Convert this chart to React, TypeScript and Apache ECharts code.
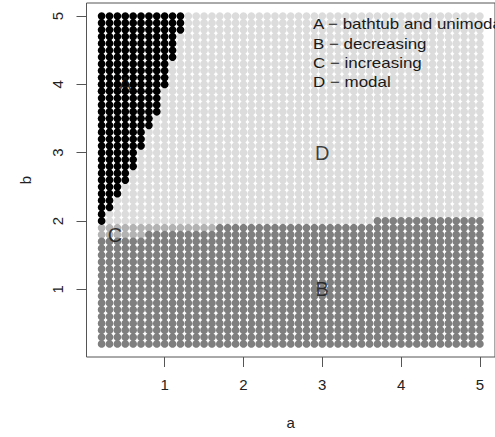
import React, { useEffect, useRef } from "react";
import * as echarts from "echarts";

// grid of shape parameters (a on x, b on y)
const aValues = [0.2, 0.3, 0.4, 0.5, 0.6, 0.7, 0.8, 0.9, 1.0, 1.1, 1.2, 1.3, 1.4, 1.5, 1.6, 1.7, 1.8, 1.9, 2.0, 2.1, 2.2, 2.3, 2.4, 2.5, 2.6, 2.7, 2.8, 2.9, 3.0, 3.1, 3.2, 3.3, 3.4, 3.5, 3.6, 3.7, 3.8, 3.9, 4.0, 4.1, 4.2, 4.3, 4.4, 4.5, 4.6, 4.7, 4.8, 4.9, 5.0];
const bValues = [0.2, 0.3, 0.4, 0.5, 0.6, 0.7, 0.8, 0.9, 1.0, 1.1, 1.2, 1.3, 1.4, 1.5, 1.6, 1.7, 1.8, 1.9, 2.0, 2.1, 2.2, 2.3, 2.4, 2.5, 2.6, 2.7, 2.8, 2.9, 3.0, 3.1, 3.2, 3.3, 3.4, 3.5, 3.6, 3.7, 3.8, 3.9, 4.0, 4.1, 4.2, 4.3, 4.4, 4.5, 4.6, 4.7, 4.8, 4.9, 5.0];

// region A (bathtub and unimodal): for each row b, the largest a in region A
const regionARows = [2.0, 2.1, 2.2, 2.3, 2.4, 2.5, 2.6, 2.7, 2.8, 2.9, 3.0, 3.1, 3.2, 3.3, 3.4, 3.5, 3.6, 3.7, 3.8, 3.9, 4.0, 4.1, 4.2, 4.3, 4.4, 4.5, 4.6, 4.7, 4.8, 4.9, 5.0];
const regionAMaxA = [0.2, 0.2, 0.3, 0.3, 0.4, 0.4, 0.5, 0.5, 0.6, 0.6, 0.6, 0.7, 0.7, 0.7, 0.8, 0.8, 0.9, 0.9, 0.9, 0.9, 1.0, 1.0, 1.0, 1.0, 1.1, 1.1, 1.1, 1.1, 1.2, 1.2, 1.2];

// column groups (starting a) with top b of region B (decreasing) and of region C (increasing)
const groupStartA = [0.2, 0.8, 1.7, 3.7];
const regionBTop = [1.7, 1.8, 1.9, 2.0];
const regionCTop = [1.9, 1.9, 1.9, 2.0];

const xTicks = [1, 2, 3, 4, 5];
const yTicks = [1, 2, 3, 4, 5];

const regionLetters = ["A", "B", "C", "D"];
const regionLetterA = [0.5, 3, 0.37, 3];
const regionLetterB = [4, 1, 1.8, 3];

const legendLines = [
  "A \u2212 bathtub and unimodal",
  "B \u2212 decreasing",
  "C \u2212 increasing",
  "D \u2212 modal",
];

const FONT = '"Liberation Sans", Arial, Helvetica, sans-serif';

function classify(a: number, b: number): number {
  const ai = Math.round(a * 10);
  const bi = Math.round(b * 10);
  const rowIdx = regionARows.findIndex((r) => Math.round(r * 10) === bi);
  if (rowIdx >= 0 && ai <= Math.round(regionAMaxA[rowIdx] * 10)) return 0;
  let g = 0;
  for (let i = 0; i < groupStartA.length; i++) {
    if (ai >= Math.round(groupStartA[i] * 10)) g = i;
  }
  if (bi <= Math.round(regionBTop[g] * 10)) return 1;
  if (bi <= Math.round(regionCTop[g] * 10)) return 2;
  return 3;
}

export default function App() {
  const ref = useRef<HTMLDivElement>(null);
  useEffect(() => {
    if (!ref.current) return;
    const chart = echarts.init(ref.current, undefined, { renderer: "svg" });
    const buckets: number[][][] = [[], [], [], []];
    for (const a of aValues) {
      for (const b of bValues) {
        buckets[classify(a, b)].push([a, b]);
      }
    }
    const colors = ["#000000", "#7f7f7f", "#b3b3b3", "#dcdcdc"];
    const order = [3, 2, 1, 0];
    const pointSeries = order.map((k) => ({
      type: "scatter",
      name: regionLetters[k],
      data: buckets[k],
      symbol: "circle",
      symbolSize: 7.8,
      itemStyle: { color: colors[k], opacity: 1 },
      silent: true,
      z: 2,
      emphasis: { disabled: true },
    }));
    const letterSeries = {
      type: "scatter",
      data: regionLetters.map((l, i) => ({ name: l, value: [regionLetterA[i], regionLetterB[i]] })),
      symbolSize: 0,
      silent: true,
      z: 5,
      label: {
        show: true,
        position: "inside",
        formatter: (p: any) => p.name,
        fontSize: 20,
        fontFamily: FONT,
        color: "#111",
      },
    };
    chart.setOption({
      animation: false,
      backgroundColor: "#ffffff",
      grid: {
        left: 86.5,
        top: 3,
        width: 409.5,
        height: 354,
        show: true,
        borderColor: "#555",
        borderWidth: 1,
        backgroundColor: "transparent",
      },
      xAxis: {
        type: "value",
        min: 0.008,
        max: 5.192,
        name: "a",
        nameLocation: "middle",
        nameGap: 58,
        nameTextStyle: { fontSize: 15, fontFamily: FONT, color: "#222" },
        axisLine: { show: false },
        splitLine: { show: false },
        axisTick: { show: true, customValues: xTicks, length: 10, lineStyle: { color: "#555" } },
        axisLabel: { customValues: xTicks, fontSize: 15, fontFamily: FONT, color: "#222", margin: 20 },
      },
      yAxis: {
        type: "value",
        min: 0.008,
        max: 5.192,
        name: "b",
        nameLocation: "middle",
        nameGap: 54,
        nameRotate: 90,
        nameTextStyle: { fontSize: 15, fontFamily: FONT, color: "#222" },
        axisLine: { show: false },
        splitLine: { show: false },
        axisTick: { show: true, customValues: yTicks, length: 10, lineStyle: { color: "#555" } },
        axisLabel: { customValues: yTicks, rotate: 90, fontSize: 15, fontFamily: FONT, color: "#222", margin: 22 },
      },
      graphic: legendLines.map((t, i) => ({
        type: "text",
        x: 313,
        y: 24 + i * 19.4,
        scaleX: 1.13,
        z: 10,
        silent: true,
        style: {
          text: t,
          fontSize: 15,
          fontFamily: FONT,
          fill: "#1a1a1a",
          verticalAlign: "middle",
          align: "left",
        },
      })),
      series: [...pointSeries, letterSeries],
    });
    return () => chart.dispose();
  }, []);
  return (
    <div
      ref={ref}
      style={{ position: "fixed", left: 0, top: 0, width: 495, height: 437, background: "#fff" }}
    />
  );
}
